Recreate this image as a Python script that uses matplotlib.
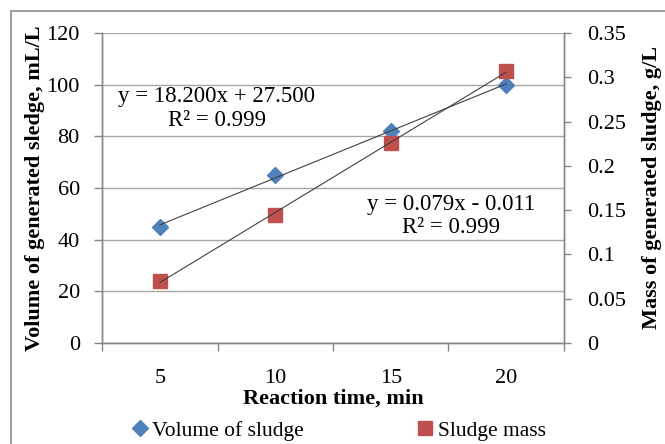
import matplotlib
matplotlib.use("Agg")
import matplotlib.pyplot as plt
from matplotlib.lines import Line2D
from matplotlib.patches import Rectangle
import numpy as np

# data
times = ["5", "10", "15", "20"]
volume = [45, 65, 82, 100]            # mL/L, left axis
mass = [0.070, 0.145, 0.226, 0.307]   # g/L, right axis
left_ticks = [0, 20, 40, 60, 80, 100, 120]
right_ticks = [0, 0.05, 0.1, 0.15, 0.2, 0.25, 0.3, 0.35]
right_labels = ["0", "0.05", "0.1", "0.15", "0.2", "0.25", "0.3", "0.35"]
eq_volume = "y = 18.200x + 27.500\nR\u00b2 = 0.999"
eq_mass = "y = 0.079x - 0.011\nR\u00b2 = 0.999"

plt.rcParams['font.family'] = ['Liberation Serif', 'DejaVu Serif']

blue = "#4F81BD"
red = "#C0504D"
axis_col = "#868686"
grid_col = "#A6A6A6"
fs = 16

fig = plt.figure(figsize=(6.65, 4.44), dpi=100)
ax = fig.add_axes([0.1534, 0.2275, 0.6947, 0.6982])
ax2 = ax.twinx()

x = np.arange(1, len(times) + 1)

#points
ax.plot(x, volume, linestyle="none", marker="D", markersize=8,
        color=blue, zorder=3)
ax2.plot(x, mass, linestyle="none", marker="s", markersize=10,
         color=red, zorder=3)

#linear trendlines, like excel does
k1, b1 = np.polyfit(x, volume, 1)
k2, b2 = np.polyfit(x, mass, 1)
ax.plot(x[[0, -1]], k1 * x[[0, -1]] + b1, color="#404040", lw=0.8, zorder=4)
ax2.plot(x[[0, -1]], k2 * x[[0, -1]] + b2, color="#404040", lw=0.8, zorder=4)

#left axis
ax.set_xlim(0.5, len(times) + 0.5)
ax.set_ylim(0, 120)
ax.set_yticks(left_ticks)
ax.set_yticklabels([str(t) for t in left_ticks])
ax.yaxis.grid(True, color=grid_col, lw=1.0)
ax.set_axisbelow(True)

#category axis: ticks between categories, labels at the centres
ax.set_xticks(np.arange(0.5, len(times) + 1, 1.0))
ax.set_xticklabels([])
ax.set_xticks(x, minor=True)
ax.set_xticklabels(times, minor=True)
ax.tick_params(axis="x", which="minor", length=0, pad=19, labelsize=fs)
ax.tick_params(axis="x", which="major", length=6, color=axis_col, width=1)
ax.tick_params(axis="y", length=6, color=axis_col, width=1, pad=10,
               labelsize=fs)

ax2.set_ylim(0, 0.35)
ax2.set_yticks(right_ticks)
ax2.set_yticklabels(right_labels)
ax2.tick_params(axis="y", length=5, color=axis_col, width=1, pad=12,
                labelsize=fs)

for a in (ax, ax2):
    a.spines["top"].set_visible(False)
    for s in ("left", "right", "bottom"):
        a.spines[s].set_color(axis_col)
        a.spines[s].set_linewidth(1.0)

ax.set_xlabel("Reaction time, min", fontsize=fs, fontweight="bold", labelpad=0)
ax.set_ylabel("Volume of generated sledge, mL/L", fontsize=fs,
              fontweight="bold", labelpad=1)
ax2.set_ylabel("Mass of generated sludge, g/L", fontsize=fs,
               fontweight="bold", rotation=90, labelpad=11)

#trendline equations
ax.text(0.248, 0.756, eq_volume, transform=ax.transAxes, fontsize=16.5,
        ha="center", va="center", multialignment="center",
        linespacing=1.15, zorder=5)
ax.text(0.756, 0.410, eq_mass, transform=ax.transAxes, fontsize=16.5,
        ha="center", va="center", multialignment="center",
        linespacing=1.15, zorder=5)

#legend below the plot
handles = [Line2D([], [], linestyle="none", marker="D", markersize=8, color=blue),
           Line2D([], [], linestyle="none", marker="s", markersize=10, color=red)]
fig.legend(handles, ["Volume of sludge", "Sludge mass"], loc="center left",
           bbox_to_anchor=(0.184, 0.03), ncol=2, frameon=False, fontsize=15.5,
           borderpad=0, handlelength=0.6, handletextpad=0.3, columnspacing=5.3)

#chart border (runs off the right and bottom edge)
fig.patches.append(Rectangle((0.0165, -0.1), 1.2, 1.075, transform=fig.transFigure,
                             fill=False, edgecolor="#8C8C8C", lw=1.2))

fig.savefig("out.png", dpi=100)
